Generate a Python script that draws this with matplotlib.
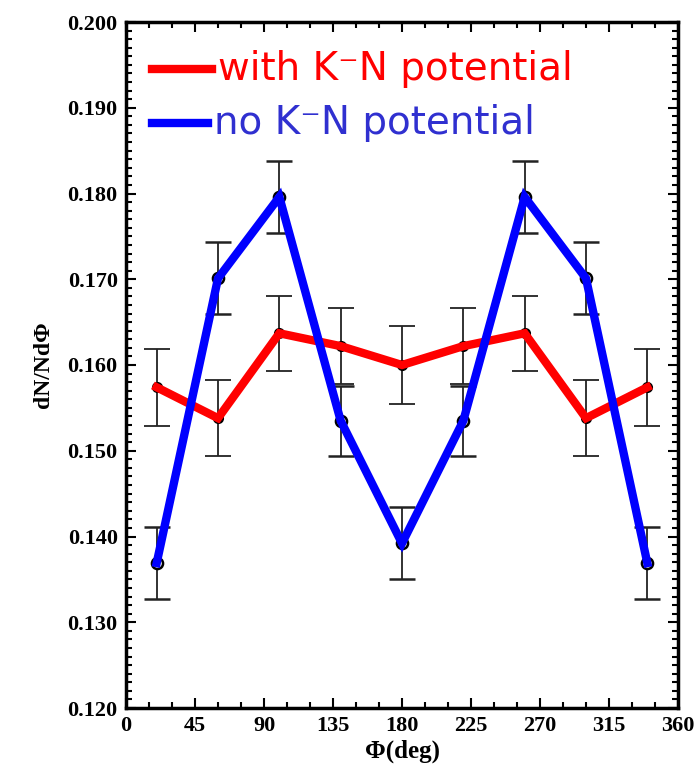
import numpy as np
import matplotlib.pyplot as plt
from matplotlib.ticker import MultipleLocator

phi = [20, 60, 100, 140, 180, 220, 260, 300, 340]
with_kn = [0.1574, 0.1538, 0.1637, 0.1622, 0.1600, 0.1622, 0.1637, 0.1538, 0.1574]
with_kn_err = [0.0045, 0.0044, 0.0044, 0.0044, 0.0045, 0.0044, 0.0044, 0.0044, 0.0045]
no_kn = [0.1369, 0.1701, 0.1796, 0.1535, 0.1392, 0.1535, 0.1796, 0.1701, 0.1369]
no_kn_err = [0.0042, 0.0042, 0.0042, 0.0041, 0.0042, 0.0041, 0.0042, 0.0042, 0.0042]

serif = {'family': 'Liberation Serif', 'weight': 'bold'}

fig = plt.figure(figsize=(6.98, 7.70), dpi=100)
ax = fig.add_axes([126/698, 1 - 708/770, 552/698, 686/770])

# error bars + markers underneath the thick lines
ax.errorbar(phi, with_kn, yerr=with_kn_err, fmt='o', color='black', ms=7,
            ecolor='#222222', elinewidth=1.3, capsize=9.5, capthick=1.3, zorder=2)
ax.errorbar(phi, no_kn, yerr=no_kn_err, fmt='o', mfc='white', mec='black', mew=1.8,
            ms=8, ecolor='#222222', elinewidth=1.3, capsize=9.5, capthick=1.3, zorder=2)

ax.plot(phi, with_kn, color='#ff0000', lw=6, solid_joinstyle='miter', zorder=3)
ax.plot(phi, no_kn, color='#0000ff', lw=6, solid_joinstyle='miter', zorder=4)

ax.set_xlim(0, 360)
ax.set_ylim(0.12, 0.20)
ax.xaxis.set_major_locator(MultipleLocator(45))
ax.xaxis.set_minor_locator(MultipleLocator(15))
ax.yaxis.set_major_locator(MultipleLocator(0.01))
ax.yaxis.set_minor_locator(MultipleLocator(0.001))
ax.tick_params(which='both', direction='in', top=True, right=True, width=1.5)
ax.tick_params(which='major', length=7, pad=6)
ax.tick_params(which='minor', length=4)
ax.set_yticks(np.arange(0.12, 0.2001, 0.01))
ax.set_yticklabels(['%.3f' % v for v in np.arange(0.12, 0.2001, 0.01)])
for lab in ax.get_xticklabels() + ax.get_yticklabels():
    lab.set_fontproperties(serif)
    lab.set_fontsize(16)
for s in ax.spines.values():
    s.set_linewidth(2.5)

ax.set_xlabel('Φ(deg)', fontsize=18, labelpad=2, **serif)
ax.set_ylabel('dN/NdΦ', fontsize=17, labelpad=10, **serif)

# hand-drawn legend in axes coordinates
ax.plot([0.047, 0.156], [0.932, 0.932], transform=ax.transAxes, color='#ff0000', lw=6)
ax.text(0.167, 0.932, 'with K⁻N potential', transform=ax.transAxes, color='#ff0000',
        fontsize=28, va='center', family='DejaVu Sans')
ax.plot([0.047, 0.149], [0.853, 0.853], transform=ax.transAxes, color='#0000ff', lw=6)
ax.text(0.160, 0.853, 'no K⁻N potential', transform=ax.transAxes, color='#3030d0',
        fontsize=28, va='center', family='DejaVu Sans')

fig.savefig('out.png', dpi=100)
